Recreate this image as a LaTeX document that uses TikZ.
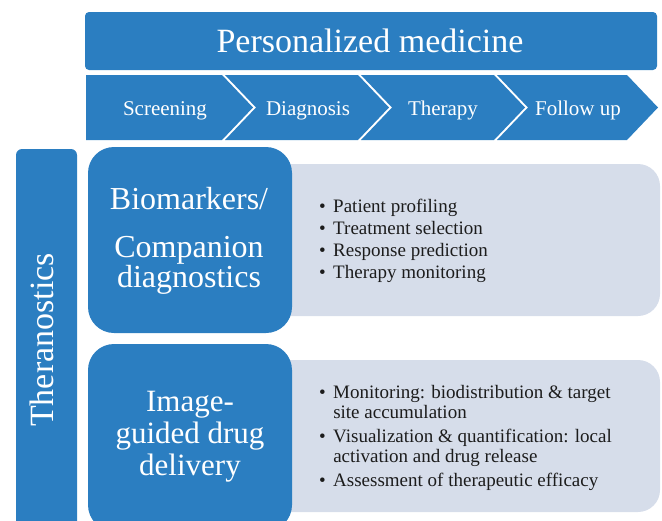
\documentclass[tikz,border=0pt]{standalone}
\usepackage{fontspec}
\setmainfont{Liberation Serif}
\definecolor{pmblue}{RGB}{43,126,193}
\definecolor{panel}{RGB}{214,221,234}
\definecolor{ink}{RGB}{28,28,28}
\begin{document}
\begin{tikzpicture}[x=1pt,y=1pt,
  bluefill/.style={fill=pmblue},
  panelfill/.style={fill=panel},
  whitetext/.style={text=white,inner sep=0pt},
  titletext/.style={whitetext,font=\fontsize{34}{40}\selectfont},
  steptext/.style={whitetext,font=\fontsize{21}{25}\selectfont},
  boxtext/.style={whitetext,align=center},
  bullettext/.style={text=ink,inner sep=0pt,anchor=base west}]
\useasboundingbox (0,0) rectangle (662,-520);
\begin{scope}
\clip (0,0) rectangle (662,-520);

% banner
\fill[bluefill,rounded corners=4] (85,-12) rectangle (657,-70);
\node[titletext,anchor=base] (pm) at (370,-52) {Personalized medicine};

% process chevrons
\fill[bluefill] (86,-75) -- (222,-75) -- (253,-107.5) -- (222,-140) -- (86,-140) -- cycle;
\fill[bluefill] (225,-75) -- (358,-75) -- (389,-107.5) -- (358,-140) -- (225,-140) -- (256,-107.5) -- cycle;
\fill[bluefill] (361,-75) -- (494,-75) -- (525,-107.5) -- (494,-140) -- (361,-140) -- (392,-107.5) -- cycle;
\fill[bluefill] (497,-75) -- (627,-75) -- (658,-107.5) -- (627,-140) -- (497,-140) -- (528,-107.5) -- cycle;
\node[steptext,anchor=base] (scr) at (165,-115) {Screening};
\node[steptext,anchor=base] (dia) at (308,-115) {Diagnosis};
\node[steptext,anchor=base] (thr) at (443,-115) {Therapy};
\node[steptext,anchor=base] (fol) at (578,-115) {Follow up};

% side bar
\fill[bluefill,rounded corners=6] (16,-149) rectangle (77,-540);
\node[titletext,rotate=90,anchor=base] (thera) at (53,-340) {Theranostics};

% light panels
\fill[panelfill,rounded corners=22] (250,-164) rectangle (660,-316);
\fill[panelfill,rounded corners=22] (250,-360) rectangle (660,-512);

% dark boxes
\fill[bluefill,rounded corners=26] (88,-147) rectangle (292,-333);
\fill[bluefill,rounded corners=26] (88,-344) rectangle (292,-531);

\node[boxtext,font=\fontsize{32}{30}\selectfont] (bio) at (189,-240.5)
  {Biomarkers/\\[18pt]Companion\\diagnostics};
\node[boxtext,font=\fontsize{31}{32}\selectfont] (img) at (190,-437)
  {Image-\\guided drug\\delivery};

% bullet lists
\node[bullettext,font=\fontsize{19}{22}\selectfont] (list1) at (319,-212)
  {\begin{tabular}[t]{@{}l@{\hspace{7.4pt}}l@{}}
   • & Patient profiling\\
   • & Treatment selection\\
   • & Response prediction\\
   • & Therapy monitoring
   \end{tabular}};
\node[bullettext,font=\fontsize{19}{20}\selectfont] (list2) at (319,-398)
  {\begin{tabular}[t]{@{}l@{\hspace{7.4pt}}l@{}}
   • & Monitoring: biodistribution \& target\\
     & site accumulation\\[4pt]
   • & Visualization \& quantification: local\\
     & activation and drug release\\[4pt]
   • & Assessment of therapeutic efficacy
   \end{tabular}};
\end{scope}
\end{tikzpicture}
\end{document}
